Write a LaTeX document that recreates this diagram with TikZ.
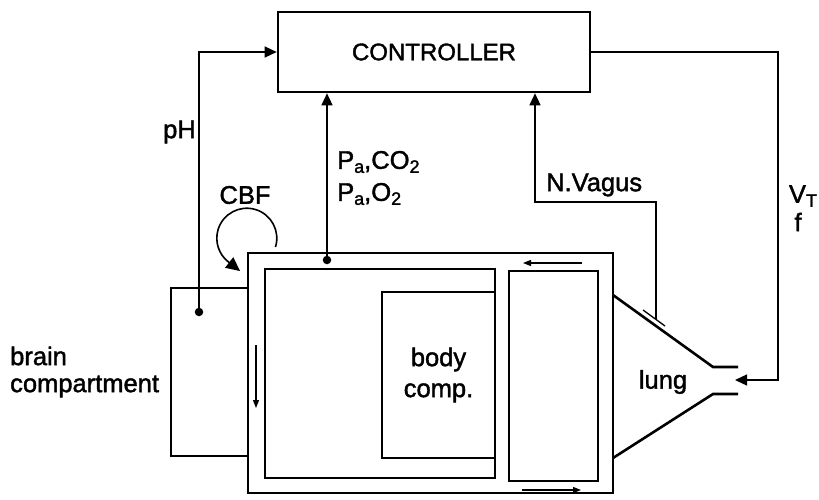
\documentclass[tikz,border=0pt]{standalone}
\usepackage{fontspec}
\setmainfont{Liberation Sans}[BoldFont={Liberation Sans},BoldFeatures={FakeBold=1.6}]
\usetikzlibrary{arrows.meta,calc}
\newcommand\mysub[1]{\raisebox{-0.3ex}{\fontsize{18}{18}\selectfont #1}}
\begin{document}
\begin{tikzpicture}[x=1pt,y=-1pt,
  box/.style={draw,line width=2.6pt,inner sep=0pt},
  sig/.style={line width=1.3pt},
  tip/.style={-{Triangle[length=12pt,width=11pt]}},
  flow/.style={line width=1.3pt,-{Triangle[length=8pt,width=6pt]}},
  lbl/.style={inner sep=0pt,font=\fontsize{25.5}{28}\selectfont\bfseries},
  dot/.style={circle,fill,inner sep=0pt,minimum size=8.5pt}]
\useasboundingbox (0,0) rectangle (819,499);
\fill[white] (0,0) rectangle (819,499);
% boxes
\node[box,minimum width=312pt,minimum height=80pt] (ctrl) at (434,52) {\fontsize{24}{28}\selectfont\bfseries CONTROLLER};
\node[box,minimum width=365pt,minimum height=240pt] (outer) at (430.5,373) {};
\node[box,minimum width=230pt,minimum height=209pt] (inner) at (380,373.5) {};
\node[box,minimum width=113pt,minimum height=166pt,align=center,font=\fontsize{25.5}{31}\selectfont\bfseries] (body) at (438.5,375) {body\\comp.};
\node[box,minimum width=89pt,minimum height=210pt] (lungbox) at (553.5,376) {};
\node[box,minimum width=77pt,minimum height=168pt] (brain) at (209.5,372) {};
% lung
\draw[line width=2.6pt] (613,295) -- (713,367) -- (738,367);
\draw[line width=2.6pt] (613,458) -- (713,394) -- (738,394);
\coordinate (mouth) at (735,380);
\node[lbl] (lung) at (663,382) {lung};
% dots
\node[dot] (phdot) at (199,312) {};
\node[dot] (padot) at (327,260) {};
% signals
\draw[sig,tip] (phdot) |- (ctrl.west);
\draw[sig,tip] (padot) -- (padot |- ctrl.south);
\coordinate (vag) at (656,319);
\coordinate (vagbend) at (535,202);
\draw[sig,tip] (vag) |- (vagbend) -- (vagbend |- ctrl.south);
\draw[sig] (643,310) -- (665,326);
\coordinate (vtcorner) at (778,380);
\draw[sig,tip] (ctrl.east) -| (vtcorner) -- (mouth);
% flow arrows
\draw[flow] (582,263) -- (523,263);
\draw[flow] (522,490) -- (581,490);
\draw[flow] (256,345) -- (256,408);
% CBF
\draw[line width=1.6pt,-{Triangle[length=14pt,width=13pt]}] (275.5,247) arc[start angle=17,end angle=-232,radius=30] -- ++(38:15);
% labels
\node[lbl,anchor=east] (ph) at (196,132) {pH};
\node[lbl] (cbf) at (245,195) {CBF};
\node[lbl,anchor=west] (paco) at (337,162) {P\mysub{a},CO\mysub{2}};
\node[lbl,anchor=west] (pao) at (337,194) {P\mysub{a},O\mysub{2}};
\node[lbl,anchor=west] (nv) at (546,185) {N.Vagus};
\node[lbl] (vt) at (803,196) {V\mysub{T}};
\node[lbl] (f) at (798,222) {f};
\node[lbl,anchor=west,align=left,font=\fontsize{25.5}{27}\selectfont\bfseries] (brainlbl) at (10,372) {brain\\compartment};
\end{tikzpicture}
\end{document}
